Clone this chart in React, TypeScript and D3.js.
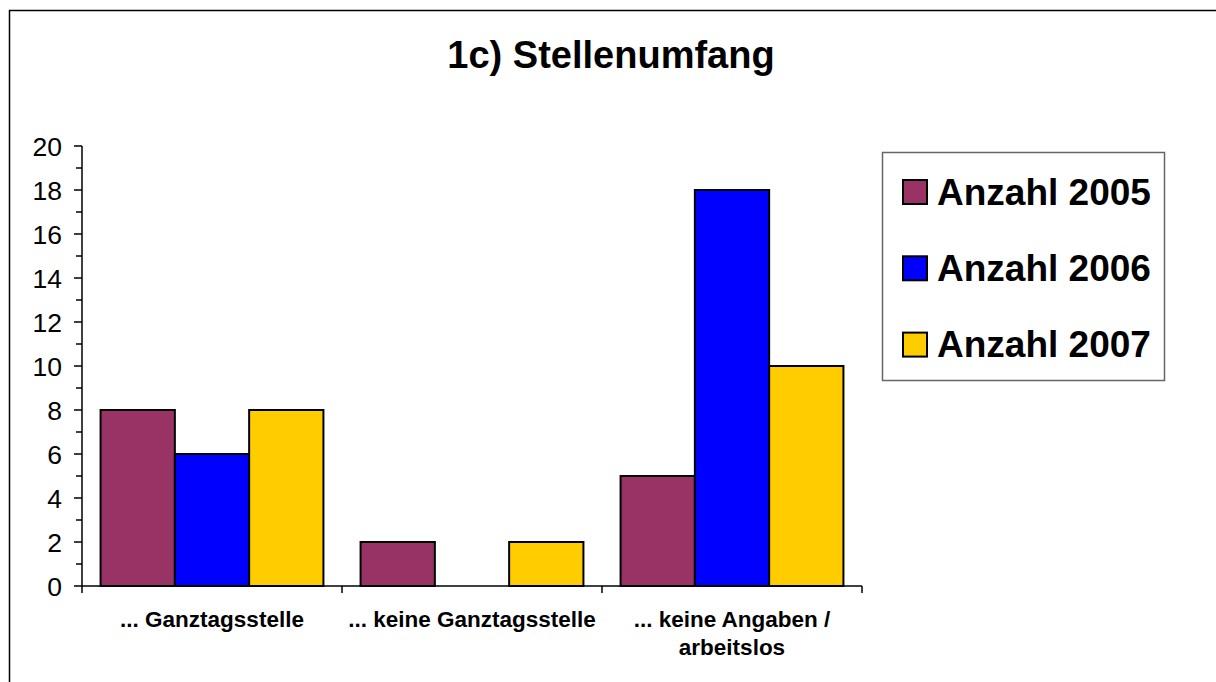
import React from 'react';
import * as d3 from 'd3';

const categories = ['... Ganztagsstelle', '... keine Ganztagsstelle', '... keine Angaben /\narbeitslos'];
const seriesNames = ['Anzahl 2005', 'Anzahl 2006', 'Anzahl 2007'];
const seriesColors = ['#993366', '#0000FF', '#FFCC00'];
const values2005 = [8, 2, 5];
const values2006 = [6, 0, 18];
const values2007 = [8, 2, 10];
const yTicks = [0, 2, 4, 6, 8, 10, 12, 14, 16, 18, 20];

const series = [values2005, values2006, values2007];
const font = 'Arial, "Liberation Sans", sans-serif';

export default function App() {
  const width = 1216;
  const height = 682;

  const x = d3.scaleBand<string>().domain(categories).range([82, 862]);
  const xInner = d3.scaleBand<string>().domain(seriesNames).range([0, x.bandwidth()]).paddingOuter(0.25);
  const y = d3.scaleLinear().domain([0, 20]).range([586, 146]);
  const minorTicks = d3.range(1, 20, 2);

  return (
    <div style={{ position: 'fixed', left: 0, top: 0 }}>
      <svg width={width} height={height} style={{ display: 'block', background: '#fff' }} fontFamily={font}>
        {/* Rahmen */}
        <rect x={9.5} y={10.5} width={1400} height={900} fill="none" stroke="#000" strokeWidth={1.5} />

        <text x={611} y={68} textAnchor="middle" fontSize={38} fontWeight="bold">1c) Stellenumfang</text>

        {/* Balken */}
        {categories.map((c, ci) => (
          <g key={c} transform={`translate(${x(c)},0)`}>
            {seriesNames.map((s, si) => {
              const v = series[si][ci];
              if (v === 0) return null;
              return (
                <rect key={s} x={xInner(s)} y={y(v)} width={xInner.bandwidth()} height={y(0) - y(v)}
                  fill={seriesColors[si]} stroke="#000" strokeWidth={2} />
              );
            })}
          </g>
        ))}

        {/* Y-Achse */}
        <line x1={82} x2={82} y1={y(20)} y2={y(0)} stroke="#000" strokeWidth={1.5} />
        {yTicks.map(t => (
          <g key={t}>
            <line x1={74} x2={82} y1={y(t)} y2={y(t)} stroke="#000" strokeWidth={1.5} />
            <text x={62} y={y(t)} dy="0.36em" textAnchor="end" fontSize={26.5}>{t}</text>
          </g>
        ))}
        {minorTicks.map(t => (
          <line key={t} x1={76} x2={82} y1={y(t)} y2={y(t)} stroke="#000" strokeWidth={1.5} />
        ))}

        {/* X-Achse */}
        <line x1={82} x2={862} y1={y(0)} y2={y(0)} stroke="#000" strokeWidth={1.5} />
        {[...categories.map(c => x(c) as number), 862].map((t, i) => (
          <line key={i} x1={t} x2={t} y1={y(0)} y2={y(0) + 7} stroke="#000" strokeWidth={1.5} />
        ))}
        {categories.map(c => (
          <text key={c} x={(x(c) as number) + x.bandwidth() / 2} y={627} textAnchor="middle" fontSize={22.5} fontWeight="bold">
            {c.split('\n').map((line, i) => (
              <tspan key={i} x={(x(c) as number) + x.bandwidth() / 2} dy={i === 0 ? 0 : 28}>{line}</tspan>
            ))}
          </text>
        ))}

        {/* Legende */}
        <rect x={882.5} y={152.5} width={282} height={228} fill="#fff" stroke="#666" strokeWidth={1.5} />
        {seriesNames.map((s, i) => (
          <g key={s} transform={`translate(0,${192 + i * 76.3})`}>
            <rect x={903} y={-12} width={24} height={24} fill={seriesColors[i]} stroke="#000" strokeWidth={2} />
            <text x={937} y={12.5} fontSize={37} fontWeight="bold">{s}</text>
          </g>
        ))}
      </svg>
    </div>
  );
}
